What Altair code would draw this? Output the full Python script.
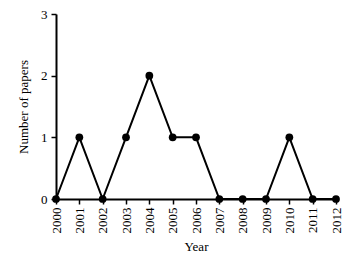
import altair as alt
import pandas as pd

years = [2000, 2001, 2002, 2003, 2004, 2005, 2006, 2007, 2008, 2009, 2010, 2011, 2012]
papers = [0, 1, 0, 1, 2, 1, 1, 0, 0, 0, 1, 0, 0]

df = pd.DataFrame({"Year": years, "Papers": papers})

font = "Liberation Serif"

x = alt.X("Year:Q",
          scale=alt.Scale(domain=[2000, 2012], nice=False, zero=False),
          axis=alt.Axis(values=years, format="d", labelAngle=270, title="Year",
                        labelFont=font, titleFont=font, labelFontSize=13, titleFontSize=13,
                        labelColor="black", titleColor="black", titleFontWeight="normal",
                        domainColor="black", domainWidth=2, tickColor="black", tickWidth=1.5,
                        tickSize=5, labelPadding=3, titlePadding=7, grid=False))
y = alt.Y("Papers:Q",
          scale=alt.Scale(domain=[0, 3], nice=False),
          axis=alt.Axis(values=[0, 1, 2, 3], format="d", title="Number of papers",
                        labelFont=font, titleFont=font, labelFontSize=13, titleFontSize=13,
                        labelColor="black", titleColor="black", titleFontWeight="normal",
                        domainColor="black", domainWidth=2, tickColor="black", tickWidth=1.5,
                        tickSize=5, labelPadding=4, titlePadding=10, grid=False))

line = alt.Chart(df).mark_line(color="black", strokeWidth=2).encode(x=x, y=y)
pts = alt.Chart(df).mark_circle(color="black", size=60, opacity=1).encode(x=x, y=y)

chart = (line + pts).properties(
    width=280, height=185,
    autosize=alt.AutoSizeParams(type="none"),
    padding={"left": 48, "top": 6, "right": 15, "bottom": 58},
    background="white",
).configure_view(stroke=None)

chart.save("out.html", embed_options={"renderer": "svg", "actions": False})
